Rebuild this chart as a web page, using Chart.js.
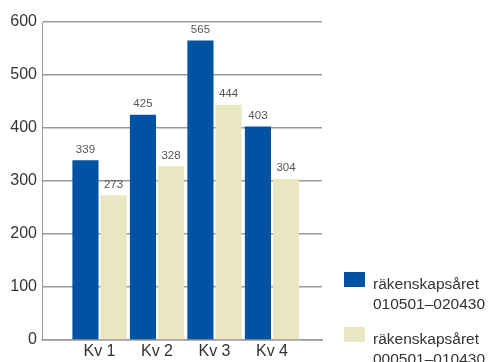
<!DOCTYPE html>
<html>
<head>
<meta charset="utf-8">
<script src="https://cdn.jsdelivr.net/npm/chart.js@4"></script>
<style>
  html, body { margin: 0; padding: 0; background: #fff; }
  #wrap { position: relative; width: 498px; height: 362px; }
  #legend { position: absolute; left: 344px; top: 272px; font: 15.5px "Liberation Sans", Arial, sans-serif; color: #333; }
  .item { position: relative; height: 55px; }
  .box { position: absolute; left: 0; top: 0; width: 21px; height: 15px; }
  .txt { position: absolute; left: 29px; top: 2px; line-height: 20px; white-space: nowrap; }
</style>
</head>
<body>
<div id="wrap">
  <canvas id="chart" width="498" height="362"></canvas>
  <div id="legend"></div>
</div>
<script>
// kvartal och värden
const quarters = ['Kv 1', 'Kv 2', 'Kv 3', 'Kv 4'];
const current = [339, 425, 565, 403];   // 010501–020430
const previous = [273, 328, 444, 304];  // 000501–010430
const seriesNames = [['räkenskapsåret', '010501–020430'], ['räkenskapsåret', '000501–010430']];
const yTicks = [0, 100, 200, 300, 400, 500, 600];

const colors = ['#0053a3', '#e9e6c2'];

const toPoints = arr => arr.map((v, i) => ({ x: i + 1, y: v }));

// värdeetiketter ovanför staplarna
const valueLabels = {
    id: 'valueLabels',
    afterDatasetsDraw(chart) {
        const ctx = chart.ctx;
        ctx.save();
        ctx.font = '11.5px "Liberation Sans", Arial, sans-serif';
        ctx.fillStyle = '#555';
        ctx.textAlign = 'center';
        ctx.textBaseline = 'bottom';
        chart.data.datasets.forEach((ds, di) => {
            chart.getDatasetMeta(di).data.forEach((bar, i) => {
                ctx.fillText(ds.data[i].y, bar.x, bar.y - 5);
            });
        });
        ctx.restore();
    }
};

const chart = new Chart(document.getElementById('chart').getContext('2d'), {
    type: 'bar',
    data: {
        datasets: [
            { label: seriesNames[0].join(' '), data: toPoints(current), backgroundColor: colors[0] },
            { label: seriesNames[1].join(' '), data: toPoints(previous), backgroundColor: colors[1] }
        ]
    },
    options: {
        responsive: false,
        animation: false,
        categoryPercentage: 0.977,
        barPercentage: 0.93,
        layout: { padding: { top: 22, right: 176, left: 0, bottom: 0 } },
        plugins: { legend: { display: false }, tooltip: { enabled: false } },
        scales: {
            x: {
                type: 'linear',
                offset: false,
                min: 0,
                max: 4.87,
                afterBuildTicks: s => { s.ticks = quarters.map((q, i) => ({ value: i + 1 })); },
                afterFit: s => { s.height = 22; },
                grid: { display: false, drawTicks: false },
                border: { display: true, color: '#9a9a9a', width: 1.5 },
                ticks: {
                    autoSkip: false,
                    maxRotation: 0,
                    padding: 2,
                    color: '#333',
                    font: { family: '"Liberation Sans", Arial, sans-serif', size: 16 },
                    callback: v => quarters[v - 1] || ''
                }
            },
            y: {
                min: 0,
                max: 600,
                afterBuildTicks: s => { s.ticks = yTicks.map(v => ({ value: v })); },
                afterFit: s => { s.width = 42; },
                grid: { color: '#9a9a9a', lineWidth: 1.5, drawTicks: false },
                border: { display: true, color: '#9a9a9a', width: 1 },
                ticks: {
                    padding: 5,
                    color: '#333',
                    font: { family: '"Liberation Sans", Arial, sans-serif', size: 16 }
                }
            }
        }
    },
    plugins: [valueLabels]
});

// förklaring
const legend = document.getElementById('legend');
chart.data.datasets.forEach((ds, i) => {
    const item = document.createElement('div');
    item.className = 'item';
    item.innerHTML = '<div class="box" style="background:' + ds.backgroundColor + '"></div>' +
        '<div class="txt">' + seriesNames[i].join('<br>') + '</div>';
    legend.appendChild(item);
});
</script>
</body>
</html>
